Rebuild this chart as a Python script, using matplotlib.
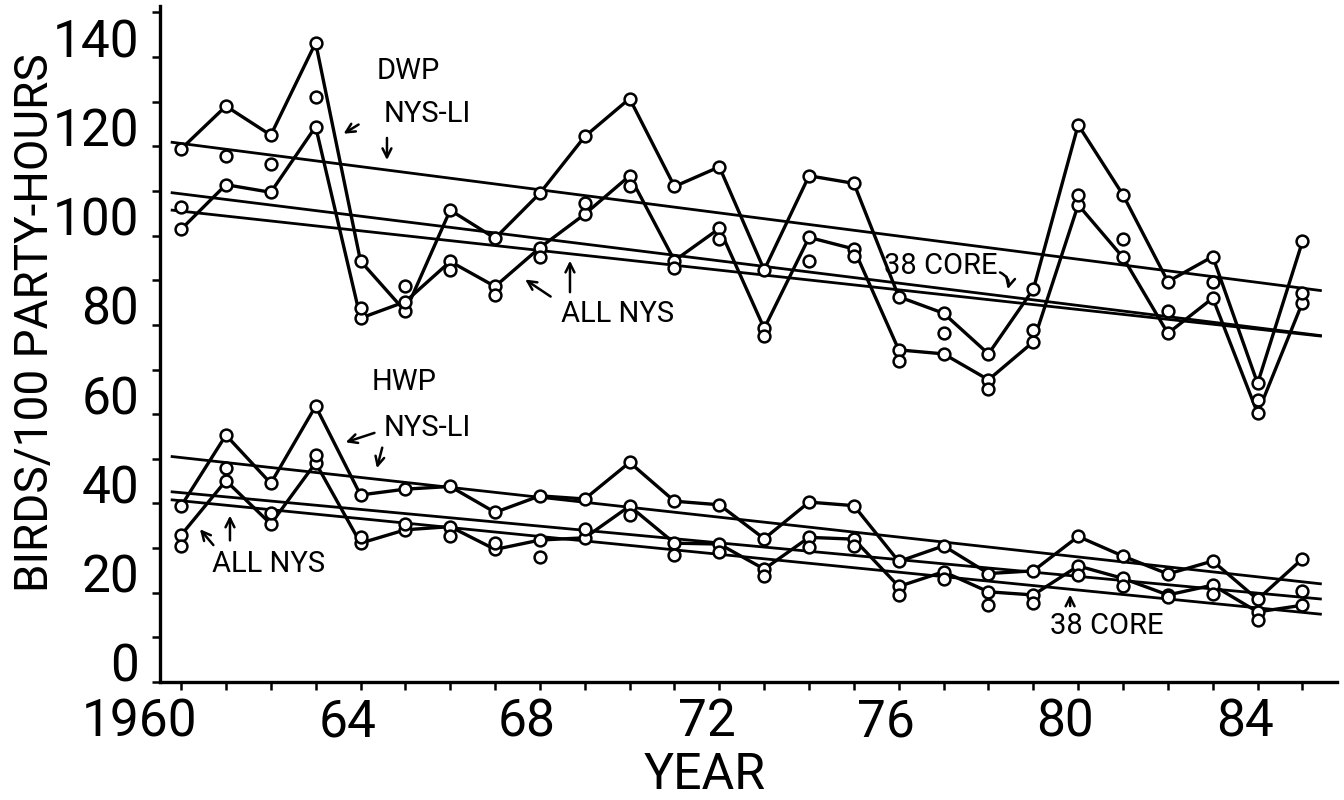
import numpy as np
import matplotlib
matplotlib.use('Agg')
import matplotlib.pyplot as plt
from matplotlib.transforms import ScaledTranslation

plt.rcParams['font.family'] = ['Roboto', 'DejaVu Sans']

years = list(range(1960, 1986))

# DWP (birds / 100 party-hours)
dwp_nys_li = [119.4, 129.0, 122.5, 143.2, 94.3, 83.0, 105.7, 99.4, 109.5, 122.2,
              130.7, 111.0, 115.4, 92.3, 113.4, 111.7, 86.3, 82.6, 73.5, 88.0,
              124.8, 109.1, 89.7, 95.3, 66.9, 98.7]
dwp_all_nys = [101.4, 111.4, 109.7, 124.4, 81.5, 85.2, 94.2, 88.6, 97.3, 104.8,
               113.4, 94.4, 101.6, 79.2, 99.6, 97.0, 74.4, 73.5, 67.7, 76.2,
               106.9, 95.1, 78.1, 86.0, 60.2, 85.0]
dwp_core = [106.5, 117.8, 116.0, 131.0, 83.7, 88.7, 92.3, 86.7, 95.3, 107.2,
            111.0, 92.7, 99.2, 77.4, 94.2, 95.4, 72.0, 78.1, 65.6, 78.9,
            109.1, 99.2, 83.0, 89.7, 63.2, 87.1]

# HWP
hwp_nys_li = [39.4, 55.3, 44.5, 61.8, 41.9, 43.2, 43.8, 38.0, 41.7, 41.0,
              49.2, 40.5, 39.7, 32.1, 40.3, 39.5, 27.0, 30.5, 24.3, 24.9,
              32.6, 28.2, 24.2, 27.1, 18.5, 27.6]
hwp_all_nys = [32.9, 45.1, 35.4, 49.1, 31.1, 34.1, 34.8, 29.7, 31.8, 32.3,
               39.4, 31.1, 30.9, 25.3, 32.4, 32.0, 21.4, 24.7, 20.2, 19.5,
               26.0, 23.2, 19.5, 21.7, 15.7, 17.2]
hwp_core = [30.5, 47.9, 37.8, 50.9, 32.4, 35.5, 32.6, 31.1, 27.9, 34.3,
            37.4, 28.4, 29.2, 23.7, 30.2, 30.5, 19.5, 23.0, 17.2, 17.6,
            24.0, 21.5, 19.0, 19.7, 14.0, 20.4]

# regression lines (value at start and end year)
fit_years = [1959.8, 1985.4]
dwp_fits = [[120.9, 87.7], [109.6, 77.6], [105.7, 77.5]]
hwp_fits = [[50.5, 22.0], [42.6, 18.6], [40.8, 15.2]]

fig = plt.figure(figsize=(13.44, 8), dpi=100)
ax = fig.add_axes([160 / 1344, 118 / 800, 1177 / 1344, 676.3 / 800])

line_kw = dict(color='black', lw=2.4, marker='o', ms=8.5, mfc='white', mec='black', mew=1.8)
for series in [dwp_nys_li, dwp_all_nys, hwp_nys_li, hwp_all_nys]:
    ax.plot(years, series, **line_kw)
for series in [dwp_core, hwp_core]:
    ax.plot(years, series, ls='none', marker='o', ms=8.5, mfc='white', mec='black', mew=1.8)
for fit in dwp_fits + hwp_fits:
    ax.plot(fit_years, fit, color='black', lw=2.0, zorder=1)

ax.set_xlim(1959.53, 1985.77)
ax.set_ylim(0, 151.5)

for side in ['top', 'right']:
    ax.spines[side].set_visible(False)
for side in ['left', 'bottom']:
    ax.spines[side].set_linewidth(2.4)

ax.set_xticks([1960, 1964, 1968, 1972, 1976, 1980, 1984],
              ['1960', '64', '68', '72', '76', '80', '84'])
ax.set_xticks([y for y in years if (y - 1960) % 4 != 0], minor=True)
ax.set_yticks(np.arange(0, 141, 20))
ax.set_yticks(np.arange(10, 151, 20), minor=True)

ax.tick_params(which='both', direction='out', length=6, width=1.8, labelsize=37)
ax.tick_params(axis='x', which='both', pad=5)
ax.tick_params(axis='y', which='both', pad=9)

# labels sit just right of / above their ticks, as in the original
shift = ScaledTranslation(16 / 100, 0, fig.dpi_scale_trans)
for lbl in ax.get_xticklabels():
    lbl.set_ha('right')
    lbl.set_transform(lbl.get_transform() + shift)
for lbl in ax.get_yticklabels():
    lbl.set_va('baseline')

fig.text(35 / 1344, 1 - 323 / 800, 'BIRDS/100 PARTY-HOURS', rotation=90,
         ha='center', va='center', fontsize=33)
fig.text(705 / 1344, 1 - 775 / 800, 'YEAR', ha='center', va='center', fontsize=36)

txt = dict(fontsize=21, ha='center', va='center')
arr = dict(arrowstyle='->', color='black', lw=1.8, mutation_scale=16)

ax.text(1965.06, 136.9, 'DWP', **txt)
ax.text(1965.48, 127.2, 'NYS-LI', **txt)
ax.annotate('', xy=(1963.57, 122.5), xytext=(1964.01, 125.2), arrowprops=arr)
ax.annotate('', xy=(1964.59, 116.3), xytext=(1964.59, 122.5), arrowprops=arr)

ax.text(1969.72, 82.4, 'ALL NYS', **txt)
ax.annotate('', xy=(1967.62, 90.5), xytext=(1968.29, 86.0), arrowprops=arr)
ax.annotate('', xy=(1968.67, 95.0), xytext=(1968.67, 86.7), arrowprops=arr)

ax.text(1976.94, 93.2, '38 CORE', **txt)
ax.annotate('', xy=(1978.41, 87.4), xytext=(1978.2, 92.0),
            arrowprops=dict(arr, connectionstyle='arc3,rad=-0.5'))

ax.text(1964.97, 67.2, 'HWP', **txt)
ax.text(1965.48, 56.9, 'NYS-LI', **txt)
ax.annotate('', xy=(1963.61, 53.5), xytext=(1964.37, 56.0), arrowprops=arr)
ax.annotate('', xy=(1964.35, 47.3), xytext=(1964.5, 53.1), arrowprops=arr)

ax.text(1961.94, 26.4, 'ALL NYS', **txt)
ax.annotate('', xy=(1960.38, 34.7), xytext=(1960.76, 30.2), arrowprops=arr)
ax.annotate('', xy=(1961.09, 37.9), xytext=(1961.09, 31.1), arrowprops=arr)

ax.text(1980.64, 12.5, '38 CORE', **txt)
ax.annotate('', xy=(1979.82, 20.2), xytext=(1979.82, 16.4), arrowprops=arr)

fig.savefig('out.png', dpi=100, facecolor='white')
